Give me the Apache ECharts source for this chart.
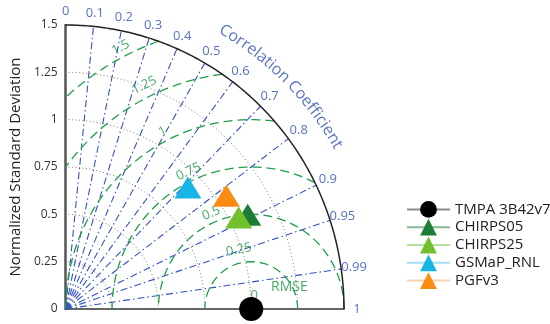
<!DOCTYPE html>
<html><head><meta charset="utf-8">
<script src="https://cdn.jsdelivr.net/npm/echarts@6/dist/echarts.min.js"></script>
<style>html,body{margin:0;padding:0;background:#fff}#c{width:550px;height:324px}</style>
</head><body><div id="c"></div>
<script>
// ---- data ----
const seriesNames = ['TMPA 3B42v7', 'CHIRPS05', 'CHIRPS25', 'GSMaP_RNL', 'PGFv3'];
const stdValues   = [1.0, 1.100, 1.050, 0.920, 1.052];
const corrValues  = [1.0, 0.892, 0.888, 0.716, 0.823];
const stdTicks = [0, 0.25, 0.5, 0.75, 1, 1.25, 1.5];
const stdGridLevels = [0.25, 0.5, 0.75, 1, 1.25];
const corrGridLevels = [0.1, 0.2, 0.3, 0.4, 0.5, 0.6, 0.7, 0.8, 0.9, 0.95, 0.99];
const corrTickLabels = ['0', '0.1', '0.2', '0.3', '0.4', '0.5', '0.6', '0.7', '0.8', '0.9', '0.95', '0.99', '1'];
const rmseLevels = ['0.25', '0.5', '0.75', '1', '1.25', '1.5'];
const corrTitle = 'Correlation Coefficient';
const yTitle = 'Normalized Standard Deviation';
const rmseTitle = 'RMSE';
const refLabel = '0';

// ---- styles ----
const stdMax = 1.5, refStd = 1;
const markerColors = ['#000000', '#1b7d36', '#72c02c', '#17b5e6', '#fb8c12'];
const legendLineColors = ['#8c8c8c', '#86b895', '#b8e39d', '#a3def5', '#fdd2b2'];
const markerSymbols = ['circle', 'triangle', 'triangle', 'triangle', 'triangle'];
const markerSizes = [24, [27, 22], [27, 22], [27, 22], [27, 22]];
const blue = '#3352c2', blueText = '#2d4fb0', green = '#1f9e48', greenText = '#17963f';
const rmseLabelAngles = [102, 113, 115, 117, 116, 117];
const rmseLabelOffsets = [0.07, 0.05, 0.05, 0.05, 0.065, 0.05];

const toXY = (s, c) => [s * c, s * Math.sqrt(Math.max(0, 1 - c * c))];
const deg = Math.PI / 180;

const series = [];
// std dotted arcs
stdGridLevels.forEach(s => {
  const pts = [];
  for (let i = 0; i <= 120; i++) { const a = i / 120 * 90 * deg; pts.push([s * Math.cos(a), s * Math.sin(a)]); }
  series.push({type: 'line', data: pts, symbol: 'none', silent: true, z: 1,
    lineStyle: {color: '#7a7a7a', width: 1, type: [1, 2.5]}});
});
// correlation dash-dot rays
corrGridLevels.forEach(c => {
  series.push({type: 'line', data: [[0, 0], toXY(stdMax, c)], symbol: 'none', silent: true, z: 1,
    lineStyle: {color: blue, width: 1.1, type: [7, 3, 1.5, 3]}});
});
// RMSE dashed arcs
rmseLevels.forEach(rs => {
  const r = parseFloat(rs);
  const t0 = Math.acos(Math.max(-1, Math.min(1, (stdMax * stdMax - refStd * refStd - r * r) / (2 * r * refStd))));
  const t1 = r > refStd ? Math.acos(-refStd / r) : Math.PI;
  const pts = [];
  for (let i = 0; i <= 150; i++) { const t = t0 + (t1 - t0) * i / 150; pts.push([refStd + r * Math.cos(t), r * Math.sin(t)]); }
  series.push({type: 'line', data: pts, symbol: 'none', silent: true, z: 2,
    lineStyle: {color: green, width: 1.3, type: [9, 5]}});
});
// outer arc
{
  const pts = [];
  for (let i = 0; i <= 180; i++) { const a = i / 180 * 90 * deg; pts.push([stdMax * Math.cos(a), stdMax * Math.sin(a)]); }
  series.push({type: 'line', data: pts, symbol: 'none', silent: true, z: 3, clip: false,
    lineStyle: {color: '#222', width: 1.5}});
}
// correlation tick labels
series.push({type: 'scatter', symbolSize: 0, silent: true, z: 5, clip: false,
  data: corrTickLabels.map(l => ({value: toXY(1.57, parseFloat(l)), name: l})),
  label: {show: true, position: 'inside', formatter: p => p.name, color: blueText, fontSize: 13,
    fontFamily: 'Open Sans', align: 'center', verticalAlign: 'middle'}});
// RMSE labels
series.push({type: 'scatter', symbolSize: 0, silent: true, z: 5, clip: false,
  data: rmseLevels.map((l, i) => {
    const r = parseFloat(l) + rmseLabelOffsets[i], a = rmseLabelAngles[i] * deg;
    return {value: [refStd + r * Math.cos(a), r * Math.sin(a)], name: l, label: {rotate: rmseLabelAngles[i] - 90}};
  }).concat([
    {value: [1.206, 0.116], name: rmseTitle, label: {fontSize: 14}},
    {value: [1.016, 0.072], name: refLabel}
  ]),
  label: {show: true, position: 'inside', formatter: p => p.name, color: greenText, fontSize: 13,
    fontFamily: 'Open Sans', align: 'center', verticalAlign: 'middle'}});
// curved correlation title
{
  const ctx = document.createElement('canvas').getContext('2d');
  ctx.font = '16px "Open Sans"';
  const chars = corrTitle.split('');
  const widths = chars.map(ch => ctx.measureText(ch).width);
  let acc = 0; const centers = widths.map(w => { const c = acc + w / 2; acc += w; return c; });
  const a0 = 59.7, a1 = 30.6, R = 1.70;
  const span = centers[centers.length - 1] - centers[0];
  const data = chars.map((ch, i) => {
    const a = a0 - (centers[i] - centers[0]) / span * (a0 - a1);
    return {value: [R * Math.cos(a * deg), R * Math.sin(a * deg)], name: ch, label: {rotate: a - 90}};
  });
  series.push({type: 'scatter', symbolSize: 0, silent: true, z: 5, clip: false, data,
    label: {show: true, position: 'inside', formatter: p => p.name, color: blueText, fontSize: 16,
      fontFamily: 'Open Sans', align: 'center', verticalAlign: 'middle'}});
}
// data markers
seriesNames.forEach((n, i) => {
  series.push({type: 'line', name: n, data: [toXY(stdValues[i], corrValues[i])],
    symbol: markerSymbols[i], symbolSize: markerSizes[i], showSymbol: true, clip: false, z: 10 + i,
    itemStyle: {color: markerColors[i], opacity: 1},
    lineStyle: {color: legendLineColors[i], width: 2}});
});

const chart = echarts.init(document.getElementById('c'), null, {renderer: 'canvas'});
chart.setOption({
  animation: false,
  textStyle: {fontFamily: 'Open Sans'},
  grid: {left: 60, top: 25, width: 284, height: 284, containLabel: false},
  xAxis: {type: 'value', min: 0, max: stdMax, interval: 0.25,
    axisLine: {show: true, lineStyle: {color: '#666', width: 2}}, axisTick: {show: false},
    axisLabel: {show: false}, splitLine: {show: false}},
  yAxis: {type: 'value', min: 0, max: stdMax, interval: 0.25,
    axisLine: {show: true, onZero: false, lineStyle: {color: '#555', width: 2.5}}, axisTick: {show: false},
    axisLabel: {color: '#333', fontSize: 12, margin: 8, formatter: v => stdTicks.includes(v) ? String(v) : ''},
    splitLine: {show: false},
    name: yTitle, nameLocation: 'middle', nameRotate: 90, nameGap: 38,
    nameTextStyle: {color: '#222', fontSize: 15}},
  legend: {show: true, orient: 'vertical', left: 401, top: 196, itemWidth: 43, itemHeight: 21, itemGap: 1,
    data: seriesNames, textStyle: {color: '#222', fontSize: 15}, selectedMode: false},
  series
});
</script></body></html>
